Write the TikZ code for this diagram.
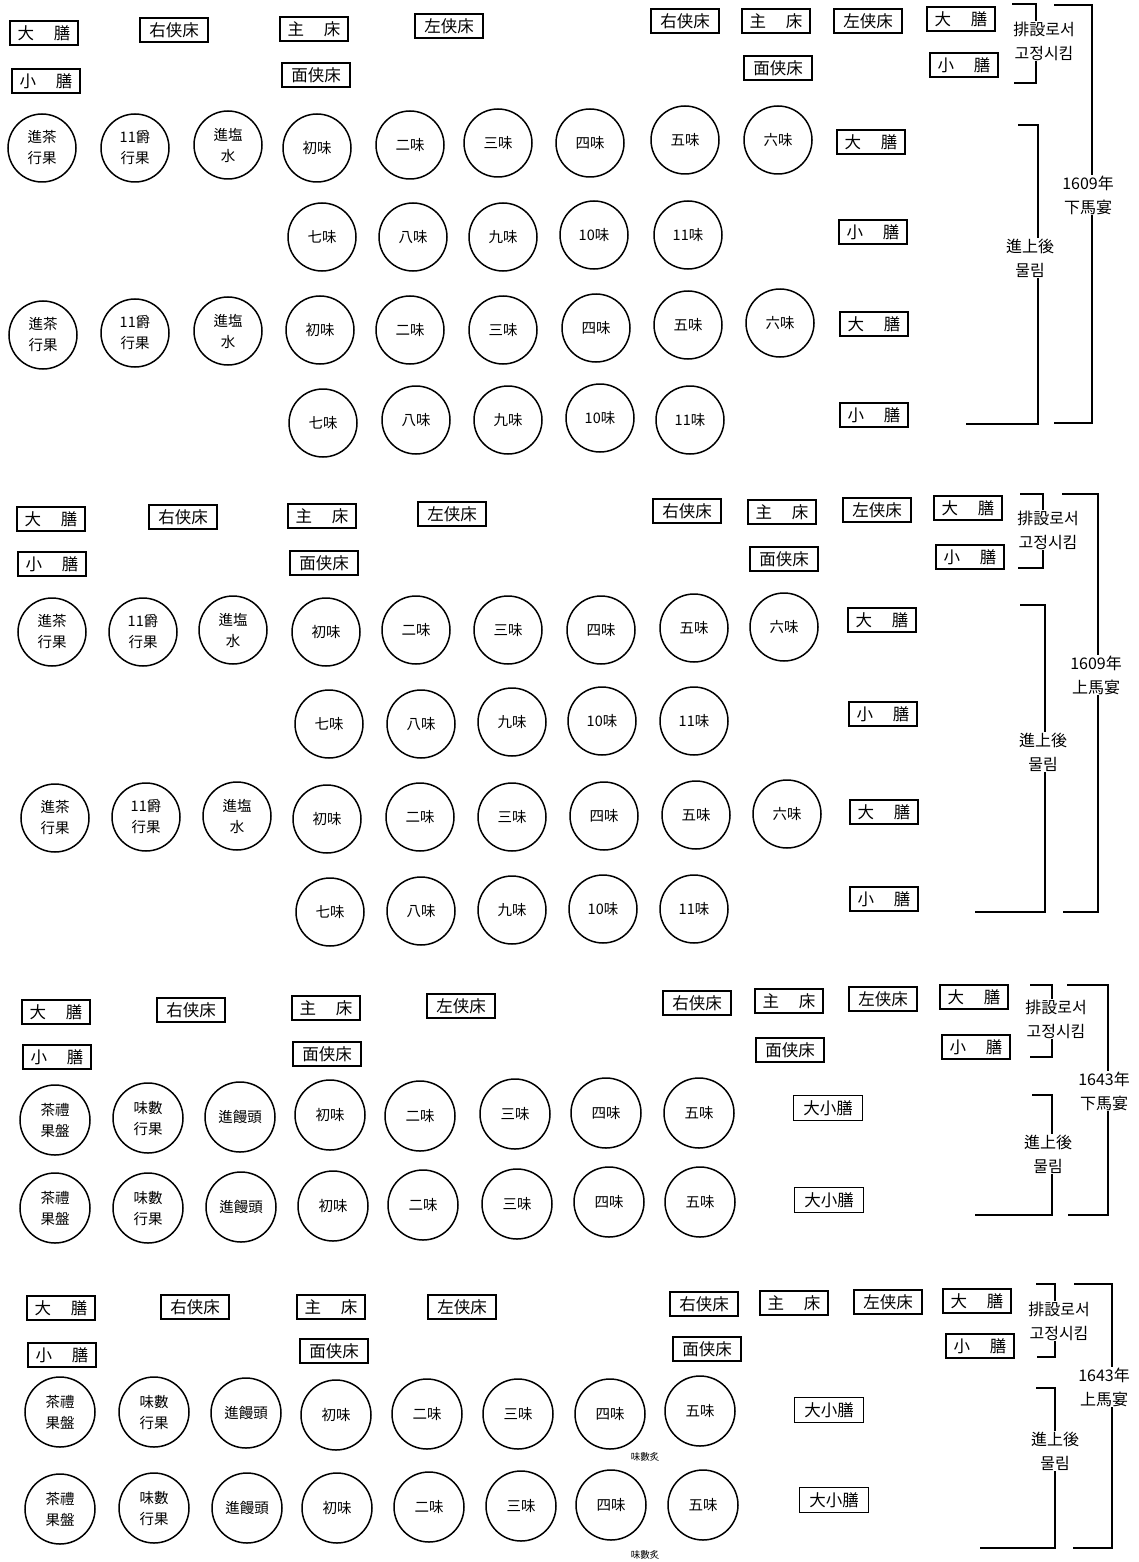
\documentclass[tikz,border=0pt]{standalone}
\usepackage{fontspec}
\newfontfamily\cjk{Noto Sans CJK KR}
\begin{document}
\begin{tikzpicture}[x=1pt,y=-1pt,
  dish/.style={circle,draw,line width=1.5pt,minimum size=68pt,inner sep=0pt,align=center,
    font=\cjk\fontsize{14.5}{21}\selectfont},
  dishb/.style={dish,minimum size=70pt},
  bx/.style={draw,line width=1.3pt,minimum width=68pt,minimum height=24pt,inner sep=0pt,
    font=\cjk\fontsize{16.5}{18}\selectfont},
  lbl/.style={fill=white,inner sep=1pt,align=center,font=\cjk\fontsize{16}{24}\selectfont},
  brk/.style={line width=1.6pt},
  note/.style={font=\cjk\fontsize{9.5}{10}\selectfont}]
\useasboundingbox (0,0) rectangle (1139,1562);
\def\DS{大\hspace{1.2em}膳}
\def\SS{小\hspace{1.2em}膳}
\def\ZC{主\hspace{1.2em}床}

% ================= Section 1 : 1609 下馬宴 =================
\node[bx] (s1dl) at (44,33) {\DS};
\node[bx] (s1yl) at (174,30) {右侠床};
\node[bx] (s1zl) at (314,29) {\ZC};
\node[bx] (s1ll) at (449,26) {左侠床};
\node[bx] (s1sl) at (46,81) {\SS};
\node[bx] (s1ml) at (316,75) {面侠床};
\node[bx] (s1yr) at (685,21) {右侠床};
\node[bx] (s1zr) at (776,21) {\ZC};
\node[bx] (s1lr) at (868,21) {左侠床};
\node[bx] (s1dr) at (961,19) {\DS};
\node[bx] (s1mr) at (778,68) {面侠床};
\node[bx] (s1sr) at (964,65) {\SS};
\foreach \x/\y/\t [count=\i] in {42/148/{進茶\\行果},135/148/{11爵\\行果},228/145/{進塩\\水},317/148/初味,410/145/二味,498/143/三味,590/143/四味,685/140/五味,778/140/六味}
  {\node[dish] (s1a\i) at (\x,\y) {\t};}
\foreach \x/\y/\t [count=\i] in {322/237/七味,413/237/八味,503/237/九味,594/235/10味,688/235/11味}
  {\node[dish] (s1b\i) at (\x,\y) {\t};}
\foreach \x/\y/\t [count=\i] in {43/335/{進茶\\行果},135/333/{11爵\\行果},228/331/{進塩\\水},320/330/初味,410/330/二味,503/330/三味,596/328/四味,688/325/五味,780/323/六味}
  {\node[dish] (s1c\i) at (\x,\y) {\t};}
\foreach \x/\y/\t [count=\i] in {323/423/七味,416/420/八味,508/420/九味,600/418/10味,690/420/11味}
  {\node[dish] (s1d\i) at (\x,\y) {\t};}
\node[bx] (s1r1) at (871,142) {\DS};
\node[bx] (s1r2) at (873,232) {\SS};
\node[bx] (s1r3) at (874,324) {\DS};
\node[bx] (s1r4) at (874,415) {\SS};
\draw[brk] (1012,4) -- (1036,4) -- (1036,83) -- (1014,83);
\draw[brk] (1054,5) -- (1092,5) -- (1092,423) -- (1054,423);
\draw[brk] (1018,125) -- (1038,125) -- (1038,424) -- (966,424);
\node[lbl] (s1t1) at (1044,41) {排設로서\\고정시킴};
\node[lbl] (s1t2) at (1088,195) {1609年\\下馬宴};
\node[lbl] (s1t3) at (1030,258) {進上後\\물림};

% ================= Section 2 : 1609 上馬宴 =================
\node[bx] (s2dl) at (51,519) {\DS};
\node[bx] (s2yl) at (183,517) {右侠床};
\node[bx] (s2zl) at (322,516) {\ZC};
\node[bx] (s2ll) at (452,514) {左侠床};
\node[bx] (s2sl) at (52,564) {\SS};
\node[bx] (s2ml) at (324,563) {面侠床};
\node[bx] (s2yr) at (687,511) {右侠床};
\node[bx] (s2zr) at (782,512) {\ZC};
\node[bx] (s2lr) at (877,510) {左侠床};
\node[bx] (s2dr) at (968,508) {\DS};
\node[bx] (s2mr) at (784,559) {面侠床};
\node[bx] (s2sr) at (970,557) {\SS};
\foreach \x/\y/\t [count=\i] in {52/632/{進茶\\行果},143/632/{11爵\\行果},233/630/{進塩\\水},326/632/初味,416/630/二味,508/630/三味,601/630/四味,694/628/五味,784/627/六味}
  {\node[dish] (s2a\i) at (\x,\y) {\t};}
\foreach \x/\y/\t [count=\i] in {329/724/七味,421/724/八味,512/722/九味,602/721/10味,694/721/11味}
  {\node[dish] (s2b\i) at (\x,\y) {\t};}
\foreach \x/\y/\t [count=\i] in {55/818/{進茶\\行果},146/817/{11爵\\行果},237/816/{進塩\\水},327/819/初味,420/817/二味,512/817/三味,604/816/四味,696/815/五味,787/814/六味}
  {\node[dish] (s2c\i) at (\x,\y) {\t};}
\foreach \x/\y/\t [count=\i] in {330/912/七味,421/911/八味,512/910/九味,603/909/10味,694/909/11味}
  {\node[dish] (s2d\i) at (\x,\y) {\t};}
\node[bx] (s2r1) at (882,620) {\DS};
\node[bx] (s2r2) at (883,714) {\SS};
\node[bx] (s2r3) at (884,812) {\DS};
\node[bx] (s2r4) at (884,899) {\SS};
\draw[brk] (1020,494) -- (1043,494) -- (1043,568) -- (1018,568);
\draw[brk] (1062,494) -- (1098,494) -- (1098,912) -- (1063,912);
\draw[brk] (1020,605) -- (1045,605) -- (1045,912) -- (975,912);
\node[lbl] (s2t1) at (1048,530) {排設로서\\고정시킴};
\node[lbl] (s2t2) at (1096,675) {1609年\\上馬宴};
\node[lbl] (s2t3) at (1043,752) {進上後\\물림};

% ================= Section 3 : 1643 下馬宴 =================
\node[bx] (s3dl) at (56,1012) {\DS};
\node[bx] (s3yl) at (191,1010) {右侠床};
\node[bx] (s3zl) at (326,1008) {\ZC};
\node[bx] (s3ll) at (461,1006) {左侠床};
\node[bx] (s3sl) at (57,1057) {\SS};
\node[bx] (s3ml) at (327,1054) {面侠床};
\node[bx] (s3yr) at (697,1003) {右侠床};
\node[bx] (s3zr) at (789,1001) {\ZC};
\node[bx] (s3lr) at (883,999) {左侠床};
\node[bx] (s3dr) at (974,997) {\DS};
\node[bx] (s3mr) at (790,1050) {面侠床};
\node[bx] (s3sr) at (976,1047) {\SS};
\foreach \x/\y/\t [count=\i] in {55/1120/{茶禮\\果盤},148/1118/{味數\\行果},240/1117/進饅頭,330/1115/初味,420/1116/二味,515/1114/三味,606/1113/四味,699/1113/五味}
  {\node[dishb] (s3a\i) at (\x,\y) {\t};}
\foreach \x/\y/\t [count=\i] in {55/1208/{茶禮\\果盤},148/1208/{味數\\行果},241/1207/進饅頭,333/1206/初味,423/1205/二味,517/1204/三味,609/1202/四味,700/1202/五味}
  {\node[dishb] (s3b\i) at (\x,\y) {\t};}
\node[bx,minimum width=69pt,minimum height=25pt] (s3r1) at (828,1108) {大小膳};
\node[bx,minimum width=69pt,minimum height=25pt] (s3r2) at (829,1200) {大小膳};
\draw[brk] (1030,985) -- (1052,985) -- (1052,1057) -- (1030,1057);
\draw[brk] (1067,985) -- (1108,985) -- (1108,1215) -- (1068,1215);
\draw[brk] (1032,1095) -- (1052,1095) -- (1052,1215) -- (975,1215);
\node[lbl] (s3t1) at (1056,1019) {排設로서\\고정시킴};
\node[lbl] (s3t2) at (1104,1091) {1643年\\下馬宴};
\node[lbl] (s3t3) at (1048,1154) {進上後\\물림};

% ================= Section 4 : 1643 上馬宴 =================
\node[bx] (s4dl) at (61,1308) {\DS};
\node[bx] (s4yl) at (195,1307) {右侠床};
\node[bx] (s4zl) at (331,1307) {\ZC};
\node[bx] (s4ll) at (462,1307) {左侠床};
\node[bx] (s4sl) at (62,1355) {\SS};
\node[bx] (s4ml) at (334,1351) {面侠床};
\node[bx] (s4yr) at (704,1304) {右侠床};
\node[bx] (s4zr) at (794,1303) {\ZC};
\node[bx] (s4lr) at (888,1302) {左侠床};
\node[bx] (s4dr) at (977,1301) {\DS};
\node[bx] (s4mr) at (707,1349) {面侠床};
\node[bx] (s4sr) at (980,1346) {\SS};
\foreach \x/\y/\t [count=\i] in {60/1412/{茶禮\\果盤},154/1412/{味數\\行果},246/1413/進饅頭,336/1415/初味,427/1414/二味,518/1414/三味,610/1414/四味,700/1411/五味}
  {\node[dishb] (s4a\i) at (\x,\y) {\t};}
\foreach \x/\y/\t [count=\i] in {60/1509/{茶禮\\果盤},154/1508/{味數\\行果},247/1508/進饅頭,337/1508/初味,429/1507/二味,521/1506/三味,611/1505/四味,703/1505/五味}
  {\node[dishb] (s4b\i) at (\x,\y) {\t};}
\node[note] (s4n1) at (645,1457) {味數炙};
\node[note] (s4n2) at (645,1555) {味數炙};
\node[bx,minimum width=69pt,minimum height=25pt] (s4r1) at (829,1410) {大小膳};
\node[bx,minimum width=69pt,minimum height=25pt] (s4r2) at (834,1500) {大小膳};
\draw[brk] (1036,1284) -- (1055,1284) -- (1055,1357) -- (1037,1357);
\draw[brk] (1074,1284) -- (1112,1284) -- (1112,1548) -- (1073,1548);
\draw[brk] (1036,1388) -- (1055,1388) -- (1055,1548) -- (980,1548);
\node[lbl] (s4t1) at (1059,1321) {排設로서\\고정시킴};
\node[lbl] (s4t2) at (1104,1387) {1643年\\上馬宴};
\node[lbl] (s4t3) at (1055,1451) {進上後\\물림};
\end{tikzpicture}
\end{document}
